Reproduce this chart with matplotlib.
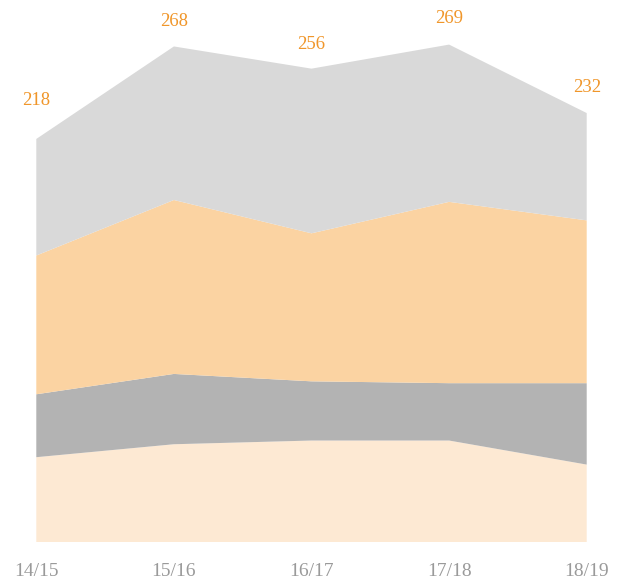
import matplotlib
matplotlib.use('Agg')
import matplotlib.pyplot as plt
import numpy as np

seasons = ['14/15', '15/16', '16/17', '17/18', '18/19']
layer1 = [46, 53, 55, 55, 42]
layer2 = [34, 38, 32, 31, 44]
layer3 = [75, 94, 80, 98, 88]
layer4 = [63, 83, 89, 85, 58]
colors = ['#fde9d3', '#b3b3b3', '#fbd3a2', '#d9d9d9']

totals = np.array(layer1) + np.array(layer2) + np.array(layer3) + np.array(layer4)

fig = plt.figure(figsize=(6.24, 5.82), dpi=100)
ax = fig.add_axes([36.3 / 624, 39.7 / 582, 550.4 / 624, 542.3 / 582])
x = np.arange(len(seasons))
ax.stackplot(x, layer1, layer2, layer3, layer4, colors=colors, linewidth=0)

# value labels above each total
offsets = [38, 25, 24, 26, 26]
for i, t in enumerate(totals):
    ax.annotate(str(t), (x[i], t), xytext=(0, offsets[i]), textcoords='offset pixels',
                ha='center', va='center', fontsize=13.5, color='#f0962a',
                family='Liberation Serif')

ax.set_xlim(0, 4)
ax.set_ylim(0, 293.1)
ax.set_xticks(x)
ax.set_xticklabels(seasons, family='Liberation Serif', fontsize=14, color='#9a9a9a')
ax.tick_params(axis='x', length=0, pad=15)
ax.set_yticks([])
for s in ax.spines.values():
    s.set_visible(False)
ax.patch.set_alpha(0)

fig.savefig('out.png', dpi=100)
